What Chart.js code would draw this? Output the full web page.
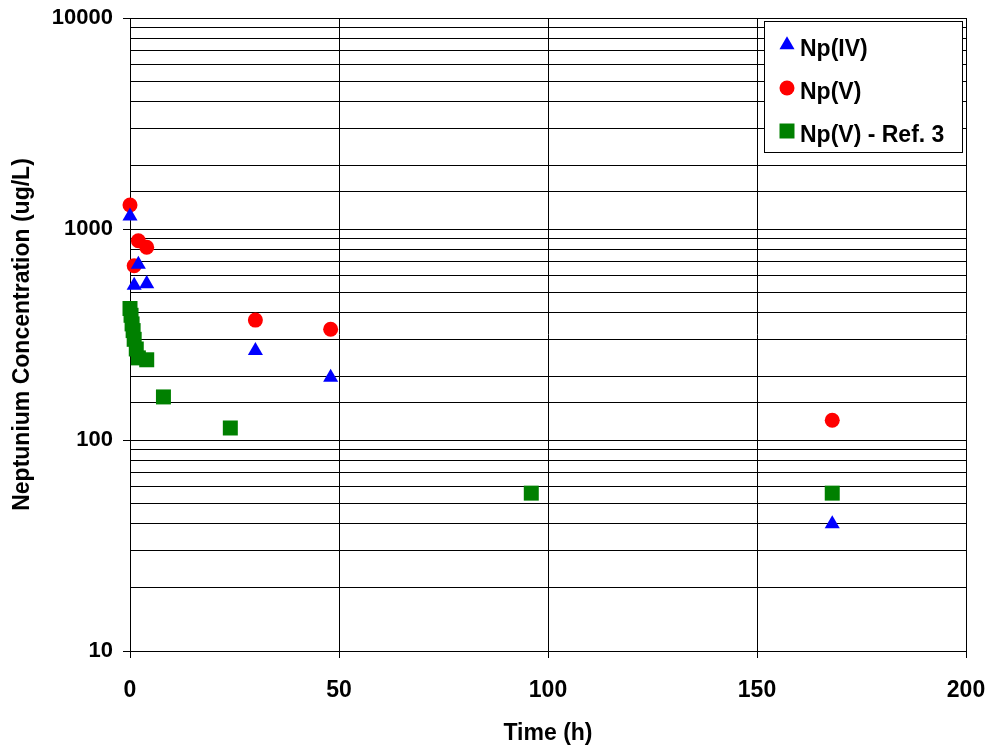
<!DOCTYPE html>
<html>
<head>
<meta charset="utf-8">
<script src="https://cdn.jsdelivr.net/npm/chart.js@4/dist/chart.umd.min.js"></script>
<style>
html, body { margin: 0; padding: 0; background: #fff; }
</style>
</head>
<body>
<canvas id="chartNp" width="989" height="749"></canvas>
<script>
// series
var seriesNames = ["Np(IV)", "Np(V)", "Np(V) - Ref. 3"];
var npIvTime = [0, 1, 2, 4, 30, 48, 168];
var npIvConc = [1150, 540, 680, 550, 265, 198, 40];
var npVTime = [0, 1, 2, 4, 30, 48, 168];
var npVConc = [1300, 670, 880, 820, 370, 335, 124];
var refTime = [0, 0.25, 0.5, 0.75, 1, 1.5, 2, 4, 8, 24, 96, 168];
var refConc = [420, 390, 355, 330, 300, 270, 245, 240, 160, 114, 56, 56];
var xTicks = [0, 50, 100, 150, 200];
var yTicks = [10, 100, 1000, 10000];

var fontFamily = "'Liberation Sans', Arial, sans-serif";

function toPoints(xs, ys) {
    var pts = [];
    for (var i = 0; i < xs.length; i++) {
        pts.push({ x: xs[i], y: ys[i] });
    }
    return pts;
}

function drawMarker(ctx, style, radius, color, x, y) {
    ctx.save();
    ctx.fillStyle = color;
    ctx.beginPath();
    if (style == 'triangle') {
        var a = 0;
        ctx.moveTo(x + Math.sin(a) * radius, y - Math.cos(a) * radius);
        a += 2 * Math.PI / 3;
        ctx.lineTo(x + Math.sin(a) * radius, y - Math.cos(a) * radius);
        a += 2 * Math.PI / 3;
        ctx.lineTo(x + Math.sin(a) * radius, y - Math.cos(a) * radius);
        ctx.closePath();
    } else if (style == 'rect') {
        var s = Math.SQRT1_2 * radius;
        ctx.rect(x - s, y - s, 2 * s, 2 * s);
    } else {
        ctx.arc(x, y, radius, 0, Math.PI * 2);
    }
    ctx.fill();
    ctx.restore();
}

// boxed legend inside the top right of the plot
var boxLegend = {
    id: 'boxLegend',
    afterDraw: function (chart) {
        var ctx = chart.ctx;
        var area = chart.chartArea;
        var left = Math.round(area.right) - 202, top = Math.round(area.top) + 3, w = 198, h = 131;
        ctx.save();
        ctx.fillStyle = '#fff';
        ctx.fillRect(left, top, w, h);
        ctx.strokeStyle = '#000';
        ctx.lineWidth = 1;
        ctx.strokeRect(left + 0.5, top + 0.5, w, h);
        ctx.font = 'bold 23px ' + fontFamily;
        ctx.fillStyle = '#000';
        ctx.textBaseline = 'alphabetic';
        chart.data.datasets.forEach(function (ds, i) {
            var cy = top + 24 + i * 43;
            drawMarker(ctx, ds.pointStyle, ds.pointRadius, ds.backgroundColor, left + 23, cy);
            ctx.fillText(ds.label, left + 36, cy + 11);
        });
        ctx.restore();
    }
};

new Chart("chartNp", {
    type: "scatter",
    data: {
        datasets: [
            {
                label: seriesNames[0],
                data: toPoints(npIvTime, npIvConc),
                pointStyle: 'triangle',
                pointRadius: 8.7,
                backgroundColor: '#0000ff',
                borderColor: '#0000ff',
                borderWidth: 0,
                clip: false
            },
            {
                label: seriesNames[1],
                data: toPoints(npVTime, npVConc),
                pointStyle: 'circle',
                pointRadius: 7.5,
                backgroundColor: '#ff0000',
                borderColor: '#ff0000',
                borderWidth: 0,
                clip: false
            },
            {
                label: seriesNames[2],
                data: toPoints(refTime, refConc),
                pointStyle: 'rect',
                pointRadius: 10.6,
                backgroundColor: '#008000',
                borderColor: '#008000',
                borderWidth: 0,
                clip: false
            }
        ]
    },
    options: {
        responsive: false,
        animation: false,
        events: [],
        layout: { padding: { left: 0, top: 18, right: 23, bottom: 0 } },
        plugins: {
            legend: { display: false },
            tooltip: { enabled: false }
        },
        scales: {
            x: {
                type: 'linear',
                min: 0,
                max: 200,
                afterBuildTicks: function (axis) {
                    axis.ticks = xTicks.map(function (v) { return { value: v }; });
                },
                afterFit: function (axis) {
                    axis.height = 98;
                    axis.paddingLeft = 0;
                    axis.paddingRight = 0;
                },
                border: { display: true, color: '#000', width: 1 },
                grid: { color: '#000', lineWidth: 1, tickLength: 7, tickColor: '#000' },
                ticks: {
                    padding: 19,
                    color: '#000',
                    maxRotation: 0,
                    font: { family: fontFamily, size: 23, weight: 'bold' }
                },
                title: {
                    display: true,
                    text: 'Time (h)',
                    color: '#000',
                    padding: { top: 0, bottom: 2 },
                    font: { family: fontFamily, size: 23, weight: 'bold' }
                }
            },
            y: {
                type: 'logarithmic',
                min: 10,
                max: 10000,
                afterFit: function (axis) {
                    axis.width = 130;
                    axis.paddingTop = 0;
                    axis.paddingBottom = 0;
                },
                border: { display: true, color: '#000', width: 1 },
                grid: {
                    color: '#000',
                    lineWidth: 1,
                    tickLength: 7,
                    tickColor: function (c) {
                        return yTicks.indexOf(c.tick.value) >= 0 ? '#000' : 'rgba(0,0,0,0)';
                    }
                },
                ticks: {
                    autoSkip: false,
                    padding: 10,
                    color: '#000',
                    font: { family: fontFamily, size: 22, weight: 'bold' },
                    callback: function (value) {
                        return yTicks.indexOf(value) >= 0 ? String(value) : '';
                    }
                },
                title: {
                    display: true,
                    text: 'Neptunium Concentration (ug/L)',
                    color: '#000',
                    padding: { top: 9, bottom: 0 },
                    font: { family: fontFamily, size: 23, weight: 'bold' }
                }
            }
        }
    },
    plugins: [boxLegend]
});
</script>
</body>
</html>
